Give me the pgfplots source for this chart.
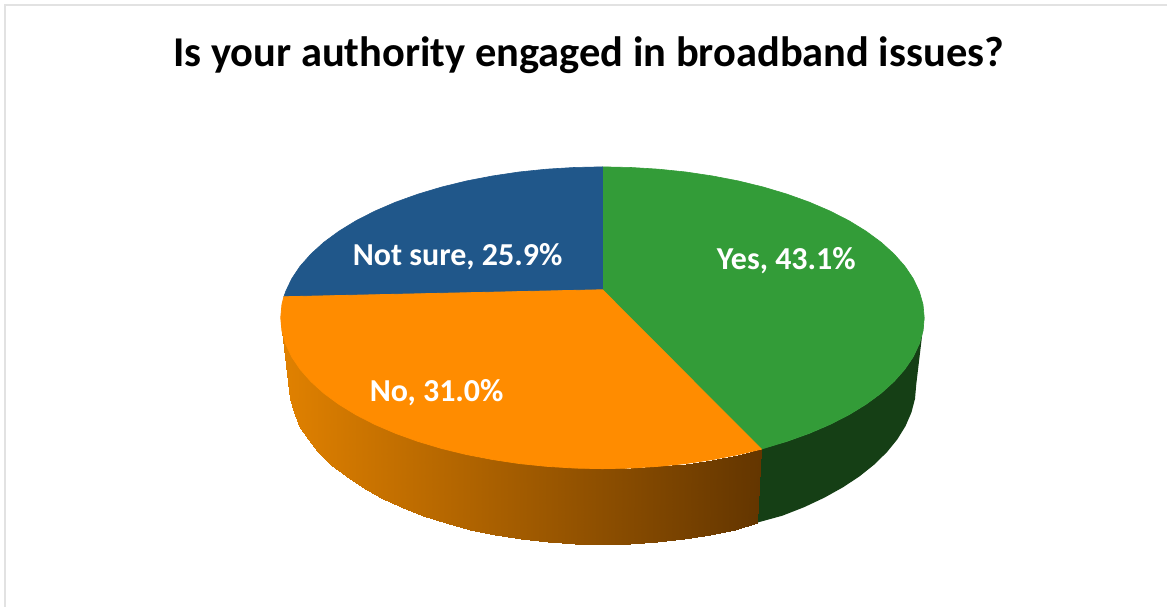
\documentclass[border=0pt]{standalone}
\usepackage{fontspec}
\setmainfont{Carlito}
\usepackage{pgfplots}
\usepgfplotslibrary{patchplots}
\pgfplotsset{compat=1.18}
\definecolor{pieGreen}{HTML}{339C38}
\definecolor{pieOrange}{HTML}{FF8C00}
\definecolor{pieBlue}{HTML}{20578A}
\definecolor{sideGreen}{HTML}{153F15}
\definecolor{sideOrange}{HTML}{A05E00}
\definecolor{frameGray}{HTML}{E2E2E2}
\begin{document}
\begin{tikzpicture}
\begin{axis}[
    width=1168pt, height=607pt, scale only axis,
    xmin=0, xmax=1168, ymin=0, ymax=607,
    y dir=reverse,
    view={0}{90},
    hide axis,
    clip=false,
    colormap={sideorange}{rgb255=(223,128,0) rgb255=(100,54,0)},
]
% page and frame
\addplot[draw=none, fill=white] coordinates {(0,0)(1168,0)(1168,607)(0,607)} -- cycle;
\addplot[frameGray, line width=2pt] coordinates {(5.5,607)(5.5,5.5)(1168,5.5)};

% side of the Yes slice
\addplot[draw=none, fill=sideGreen] coordinates {
    (762,449)(787.7,441.7)(810,433.7)(830.7,424.8)(849.7,415.1)(866.8,404.6)(881.9,393.5)
    (894.8,381.8)(905.6,369.6)(914,357.1)(920.1,344.2)(923.8,331.2)(925,318)
    (917,385)(915.8,399)(912.2,412.8)(906.3,426.4)(898.1,439.7)(887.6,452.6)(874.9,465)
    (860.2,476.8)(843.5,487.8)(825,498.1)(804.8,507.6)(783.1,516.1)(758,523)
} -- cycle;

% flat fill under the gradient, so no gap shows at the top edge
\addplot[draw=none, fill=sideOrange] coordinates {
    (311.2,376)(442,443)(603,463)(762,444)(762,449.5)(739.1,454.9)(713.1,459.9)(686.3,463.9)
    (658.9,466.7)(631.1,468.4)(603,472)(574.9,471)(547.1,470)(519.7,467)(492.9,463)
    (466.9,458)(442,452)(418.3,445)(396,437)(375.3,428)(356.3,418)(339.2,407)(324.1,396)
    (311.2,384)
} -- cycle;

% side of the No slice, darkening to the right
\addplot3[surf, shader=interp, point meta=x, point meta min=289, point meta max=758] table {
281 318 0
282.2 331.2 0
285.9 344.2 0
292 357.1 0
300.4 369.6 0
311.2 381.8 0
324.1 393.5 0
339.2 404.6 0
356.3 415.1 0
375.3 424.8 0
396 433.7 0
418.3 441.7 0
442 448.8 0
466.9 454.9 0
492.9 459.9 0
519.7 463.9 0
547.1 466.7 0
574.9 468.4 0
603 469 0
631.1 468.4 0
658.9 466.7 0
686.3 463.9 0
713.1 459.9 0
739.1 454.9 0
762 449.5 0

289 385 0
290.2 399 0
293.8 412.8 0
299.7 426.4 0
307.9 439.7 0
318.4 452.6 0
331.1 465 0
345.8 476.8 0
362.5 487.8 0
381 498.1 0
401.2 507.6 0
422.9 516.1 0
446 523.6 0
470.3 530 0
495.6 535.4 0
521.7 539.5 0
548.5 542.6 0
575.6 544.4 0
603 545 0
630.4 544.4 0
657.5 542.6 0
684.3 539.5 0
710.4 535.4 0
735.7 530 0
758 523 0
};

% top faces
\addplot[draw=pieGreen, line width=0.6pt, fill=pieGreen] coordinates {
    (603,290)(603,167)(631.1,167.6)(658.9,169.3)(686.3,172.1)(713.1,176.1)(739.1,181.1)
    (764,187.2)(787.7,194.3)(810,202.3)(830.7,211.2)(849.7,220.9)(866.8,231.4)(881.9,242.5)
    (894.8,254.2)(905.6,266.4)(914,278.9)(920.1,291.8)(923.8,304.8)(925,318)
    (923.8,331.2)(920.1,344.2)(914,357.1)(905.6,369.6)(894.8,381.8)(881.9,393.5)
    (866.8,404.6)(849.7,415.1)(830.7,424.8)(810,433.7)(787.7,441.7)(762,449.5)
} -- cycle;
\addplot[draw=pieBlue, line width=0.6pt, fill=pieBlue] coordinates {
    (603,290)(284.1,297)(285.9,291.8)(292,278.9)(300.4,266.4)(311.2,254.2)(324.1,242.5)
    (339.2,231.4)(356.3,220.9)(375.3,211.2)(396,202.3)(418.3,194.3)(442,187.2)(466.9,181.1)
    (492.9,176.1)(519.7,172.1)(547.1,169.3)(574.9,167.6)(603,167)
} -- cycle;
\addplot[draw=pieOrange, line width=0.8pt, fill=pieOrange] coordinates {
    (603,290)(284.1,297)(282.2,304.8)(281,318)(282.2,331.2)(285.9,344.2)(292,357.1)
    (300.4,369.6)(311.2,381.8)(324.1,393.5)(339.2,404.6)(356.3,415.1)(375.3,424.8)
    (396,433.7)(418.3,441.7)(442,448.8)(466.9,454.9)(492.9,459.9)(519.7,463.9)
    (547.1,466.7)(574.9,468.4)(603,469)(631.1,468.4)(658.9,466.7)(686.3,463.9)
    (713.1,459.9)(739.1,454.9)(762,449.5)
} -- cycle;

\node[font=\fontsize{42.5}{48}\selectfont\bfseries, text=black] at (axis cs:589,55) {Is your authority engaged in broadband issues?};
\node[font=\fontsize{32}{38}\selectfont\bfseries, text=white] at (axis cs:787,261) {Yes, 43.1\%};
\node[font=\fontsize{32}{38}\selectfont\bfseries, text=white] at (axis cs:458,257) {Not sure, 25.9\%};
\node[font=\fontsize{32}{38}\selectfont\bfseries, text=white] at (axis cs:437,393) {No, 31.0\%};
\end{axis}
\end{tikzpicture}
\end{document}
